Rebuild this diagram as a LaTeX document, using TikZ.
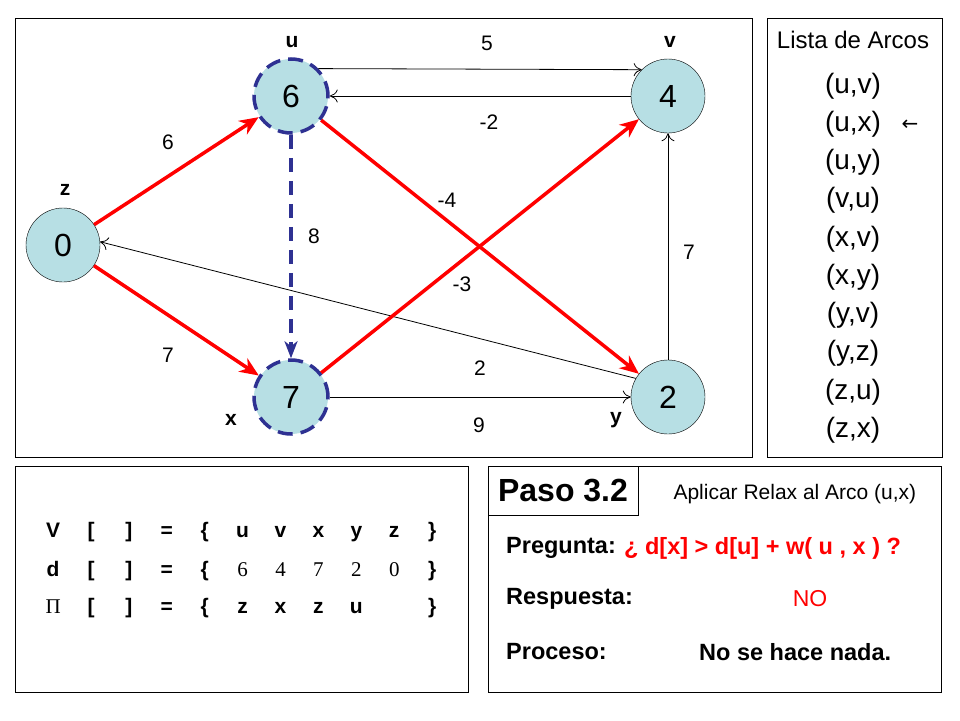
\documentclass[tikz,border=0pt]{standalone}
\usepackage{fontspec}
\setmainfont{Liberation Sans}
\newfontfamily\serifnum{Liberation Serif}
\newfontfamily\symbfont{DejaVu Sans}
\usetikzlibrary{arrows.meta}
\definecolor{nodefill}{RGB}{183,223,228}
\definecolor{pathblue}{RGB}{46,49,146}
\newcommand{\fs}[1]{\fontsize{#1}{#1}\selectfont}
\newcommand{\cell}[1]{\makebox[37.9pt]{#1}}

\begin{document}
\begin{tikzpicture}[x=1pt,y=-1pt,
    vertex/.style={circle,draw,fill=nodefill,minimum size=74pt,inner sep=0pt,font=\fs{32}},
    current/.style={draw=pathblue,line width=3.5pt,dash pattern=on 15pt off 8pt},
    weight/.style={font=\fs{21}},
    vname/.style={font=\fs{21}\bfseries},
    panel/.style={draw,line width=0.8pt},
    thinarc/.style={-{To[length=8pt,width=13pt]},line width=0.8pt},
    treearc/.style={-{Stealth[length=19pt,width=16pt,inset=6pt]},draw=red,line width=3.5pt},
    checkarc/.style={-{Stealth[length=17pt,width=13pt,inset=5pt]},draw=pathblue,line width=3.5pt,dash pattern=on 14pt off 9pt}]
  \useasboundingbox (0,0) rectangle (960,720);

  % frames
  \draw[panel] (15,18) rectangle (752,457);
  \draw[panel] (767,18) rectangle (942,457);
  \draw[panel] (15,466) rectangle (468,692);
  \draw[panel] (488,466) rectangle (941,692);

  % graph
  \node (z) [vertex] at (63,245) {0};
  \node (u) [vertex,current] at (291,96) {6};
  \node (v) [vertex] at (668,96) {4};
  \node (x) [vertex,current] at (291,397) {7};
  \node (y) [vertex] at (668,397) {2};

  \node (zlab) [vname] at (65,190) {z};
  \node (ulab) [vname] at (292,42) {u};
  \node (vlab) [vname] at (670,42) {v};
  \node (xlab) [vname] at (231,420) {x};
  \node (ylab) [vname] at (616,420) {y};

  \path [thinarc] (u.45) edge (v.135);
  \path [thinarc] (v) edge (u);
  \path [thinarc] (x) edge (y);
  \path [thinarc] (y) edge (v);
  \path [thinarc] (y.150) edge (z.5);
  \path [treearc] (z) edge (u);
  \path [treearc] (z) edge (x);
  \path [treearc] (u) edge (y);
  \path [treearc] (x) edge (v);
  \path [checkarc] (u) edge (x);

  \node (wuv) [weight] at (487,43) {5};
  \node (wvu) [weight] at (489,122) {-2};
  \node (wzu) [weight] at (168,142) {6};
  \node (wuy) [weight] at (447,200) {-4};
  \node (wux) [weight] at (314,236) {8};
  \node (wyv) [weight] at (689,252) {7};
  \node (wxv) [weight] at (462,284) {-3};
  \node (wzx) [weight] at (168,355) {7};
  \node (wyz) [weight] at (480,368) {2};
  \node (wxy) [weight] at (479,425) {9};

  % list of arcs
  \node (lista) [font=\fs{24}] at (853,40) {Lista de Arcos};
  \begin{scope}[every node/.style={font=\fs{28}}]
    \node (a1) at (853,86) {(u,v)};
    \node (a2) at (853,124) {(u,x)};
    \node (a3) at (853,162) {(u,y)};
    \node (a4) at (853,200) {(v,u)};
    \node (a5) at (853,239) {(x,v)};
    \node (a6) at (853,277) {(x,y)};
    \node (a7) at (853,315) {(y,v)};
    \node (a8) at (853,353) {(y,z)};
    \node (a9) at (853,392) {(z,u)};
    \node (a10) at (853,430) {(z,x)};
  \end{scope}
  \node (pointer) [font=\symbfont\fs{20}] at (910,125) {←};

  % arrays
  \begin{scope}[every node/.style={anchor=west,inner sep=0pt,font=\fs{21}\bfseries}]
    \node (rowV) at (34,532) {\cell{V}\cell{[}\cell{]}\cell{=}\cell{\{}\cell{u}\cell{v}\cell{x}\cell{y}\cell{z}\cell{\}}};
    \node (rowD) at (34,571) {\cell{d}\cell{[}\cell{]}\cell{=}\cell{\{}\cell{\serifnum\mdseries 6}\cell{\serifnum\mdseries 4}\cell{\serifnum\mdseries 7}\cell{\serifnum\mdseries 2}\cell{\serifnum\mdseries 0}\cell{\}}};
    \node (rowPi) at (34,608) {\cell{\serifnum\mdseries Π}\cell{[}\cell{]}\cell{=}\cell{\{}\cell{z}\cell{x}\cell{z}\cell{u}\cell{}\cell{\}}};
  \end{scope}

  % step panel
  \node (paso) [panel,minimum width=150pt,minimum height=49pt,font=\fs{32}\bfseries] at (563,490.5) {Paso 3.2};
  \node (titulo) [anchor=west,font=\fs{21}] at (670,494) {Aplicar Relax al Arco (u,x)};
  \begin{scope}[every node/.style={anchor=west,inner sep=0pt,font=\fs{23.5}\bfseries}]
    \node (preg) at (506,548) {Pregunta:};
    \node (cond) [text=red] at (624,548) {¿ d[x] > d[u] + w( u , x ) ?};
    \node (resp) at (506,599) {Respuesta:};
    \node (proc) at (506,652) {Proceso:};
    \node (accion) at (699,652) {No se hace nada.};
  \end{scope}
  \node (no) [text=red,font=\fs{23}] at (810,599) {NO};
\end{tikzpicture}
\end{document}
